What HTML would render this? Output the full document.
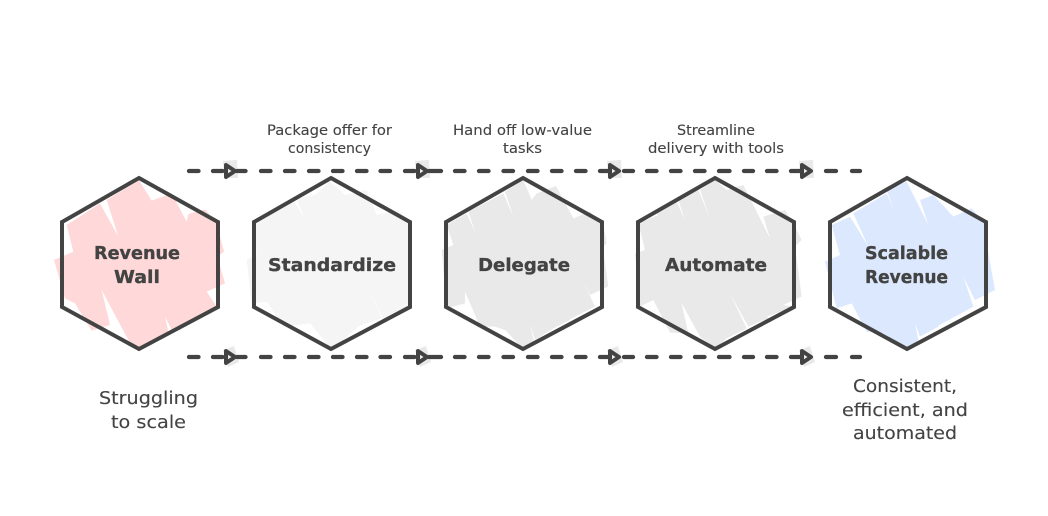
<!DOCTYPE html>
<html><head><meta charset="utf-8"><style>
html,body{margin:0;padding:0;background:#fff}
svg{display:block}
text{font-family:"DejaVu Sans","Liberation Sans",sans-serif;fill:#434343}
.b{font-weight:bold;font-size:18px;stroke:#434343;stroke-width:.35px}
.s{font-size:14px;stroke:#434343;stroke-width:.12px}
.m{font-size:18px;stroke:#434343;stroke-width:.12px}
</style></head><body>
<svg width="1048" height="516" viewBox="0 0 1048 516" xmlns="http://www.w3.org/2000/svg">
<defs>
<path id="d" d="M189 0H198.5M213 0H222.5M237 0H245.500M261 0H270.500M285 0H294.500M309 0H318.500M333 0H342.500M357 0H366.500M380.500 0H390M405 0H414.500M429 0H441M455 0H464.500M479 0H488.500M503.500 0H513M528 0H537.500M552 0H561.500M576 0H585.500M600 0H609.500M624 0H633M647 0H656.500M671 0H680.500M695 0H704.500M719 0H729.500M744 0H753M767 0H776.500M791 0H801M826 0H836M852 0H860"/>
</defs>
<rect width="1048" height="516" fill="#fff"/>
<g transform="translate(40 110) scale(.33333)"><polygon fill="#ffd9d9" points="297,210 335,272 395,250 440,335 445,312 495,298 530,340 552,425 532,440 555,520 500,545 480,515 530,590 505,605 395,660 375,620 385,665 335,690 297,715 265,690 185,540 210,645 155,662 105,580 75,565 42,450 100,425 80,345 180,280 235,380 200,270"/>
<polygon fill="#f5f5f5" points="870,215 915,255 980,240 1010,315 1075,300 1105,340 1115,530 1110,590 1080,575 1105,590 1030,630 980,525 1025,625 950,650 930,600 955,650 875,720 810,640 730,650 680,575 635,580 620,450 650,435 645,340 760,270 790,320 770,265 825,255"/></g>
<g transform="translate(430 110) scale(.33333)"><polygon fill="#e9e9e9" points="280,210 305,270 320,250 378,228 430,325 480,305 520,345 530,400 518,410 535,530 480,555 455,505 495,590 415,630 400,580 420,630 370,655 315,690 300,640 312,695 280,718 225,660 195,650 150,650 105,545 105,580 50,595 35,420 70,405 50,345 110,310 135,365 115,305 220,250 250,320 225,245"/></g>
<g transform="translate(620 110) scale(.33333)"><polygon fill="#e9e9e9" points="285,210 320,240 370,225 450,385 430,320 495,300 520,340 545,390 525,410 545,560 490,585 525,590 440,620 420,575 445,625 385,650 330,550 380,655 320,685 285,718 240,680 185,580 205,670 150,668 100,570 60,590 45,430 75,420 55,340 115,315 135,365 110,310 170,275 195,330 175,270 235,240 270,325 240,240"/>
<polygon fill="#dbe8fd" points="860,215 925,345 900,270 940,255 1000,320 1055,295 1095,340 1105,430 1125,540 1065,570 1030,500 1060,590 950,650 940,610 955,650 900,680 885,640 895,690 860,718 790,670 740,665 695,580 650,595 615,455 660,435 635,345 690,320 745,410 700,310 800,250 820,295 800,240"/></g>
<g fill="#e9e9e9">
<polygon points="223,161 237,160 238,178 224,178"/><polygon points="415,161 429,160 430,178 416,178"/><polygon points="607,161 621,160 622,178 608,178"/><polygon points="799,161 813,160 814,178 800,178"/>
<polygon points="223,350 234,346 239,362 228,367"/><polygon points="415,350 426,346 431,362 420,367"/><polygon points="607,350 618,346 623,362 612,367"/><polygon points="799,350 810,346 815,362 804,367"/>
</g>
<g fill="none" stroke="#434343" stroke-width="4" stroke-linejoin="miter">
<polygon points="139,178 218,222 218,307 139,349 62,307 62,222"/>
<polygon points="331,178 410,222 410,307 331,349 254,307 254,222"/>
<polygon points="523,178 602,222 602,307 523,349 446,307 446,222"/>
<polygon points="715,178 794,222 794,307 715,349 638,307 638,222"/>
<polygon points="907,178 986,222 986,307 907,349 830,307 830,222"/>
<g stroke-linecap="round" stroke-width="4.300">
<use href="#d" y="171"/><use href="#d" y="357"/>
</g>
<g stroke-linejoin="round">
<polygon points="226,165 235,171 226,177"/><polygon points="418,165 427,171 418,177"/><polygon points="610,165 619,171 610,177"/><polygon points="802,165 811,171 802,177"/>
<polygon points="226,351 235,357 226,363"/><polygon points="418,351 427,357 418,363"/><polygon points="610,351 619,357 610,363"/><polygon points="802,351 811,357 802,363"/>
</g>
</g>
<text class="b" x="94" y="259" textLength="86" lengthAdjust="spacingAndGlyphs">Revenue</text>
<text class="b" x="114" y="283" textLength="46" lengthAdjust="spacingAndGlyphs">Wall</text>
<text class="b" x="268" y="271" textLength="128" lengthAdjust="spacingAndGlyphs">Standardize</text>
<text class="b" x="478" y="271" textLength="92" lengthAdjust="spacingAndGlyphs">Delegate</text>
<text class="b" x="665" y="271" textLength="102" lengthAdjust="spacingAndGlyphs">Automate</text>
<text class="b" x="865" y="259" textLength="83" lengthAdjust="spacingAndGlyphs">Scalable</text>
<text class="b" x="865" y="283" textLength="83" lengthAdjust="spacingAndGlyphs">Revenue</text>
<text class="s" x="267" y="135" textLength="125" lengthAdjust="spacingAndGlyphs">Package offer for</text>
<text class="s" x="288" y="153" textLength="83" lengthAdjust="spacingAndGlyphs">consistency</text>
<text class="s" x="453" y="135" textLength="139" lengthAdjust="spacingAndGlyphs">Hand off low-value</text>
<text class="s" x="503" y="153" textLength="39" lengthAdjust="spacingAndGlyphs">tasks</text>
<text class="s" x="677" y="135" textLength="78" lengthAdjust="spacingAndGlyphs">Streamline</text>
<text class="s" x="648" y="153" textLength="136" lengthAdjust="spacingAndGlyphs">delivery with tools</text>
<text class="m" x="99" y="404" textLength="99" lengthAdjust="spacingAndGlyphs">Struggling</text>
<text class="m" x="111" y="428" textLength="75" lengthAdjust="spacingAndGlyphs">to scale</text>
<text class="m" x="853" y="392" textLength="104" lengthAdjust="spacingAndGlyphs">Consistent,</text>
<text class="m" x="842" y="416" textLength="126" lengthAdjust="spacingAndGlyphs">efficient, and</text>
<text class="m" x="853" y="439" textLength="104" lengthAdjust="spacingAndGlyphs">automated</text>
</svg>
</body></html>
